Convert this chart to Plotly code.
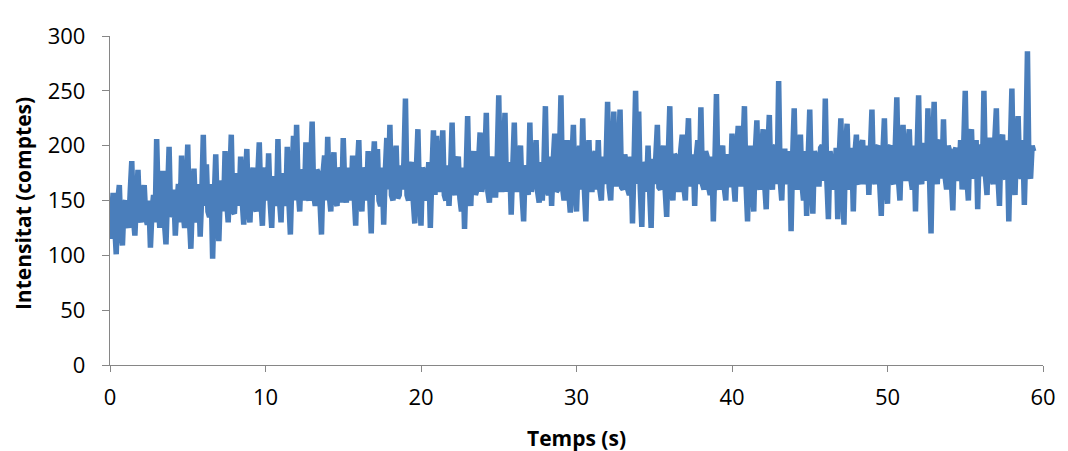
import plotly.graph_objects as go

# Sampling step (s) of the recorded series
step_s = 0.1

# Intensity (counts), one value per 0.1 s starting at t = 0
# (each row = 2 s of signal)
intensitat = [
    115, 140, 157, 128, 101, 150, 164, 122, 109, 146, 150, 132, 125, 158, 186, 135, 118, 150, 178, 138,
    130, 155, 164, 135, 128, 150, 107, 140, 155, 130, 206, 150, 125, 160, 177, 130, 110, 155, 199, 135,
    140, 160, 118, 145, 165, 130, 191, 140, 125, 162, 201, 135, 106, 150, 179, 140, 130, 165, 117, 155,
    210, 145, 183, 140, 135, 165, 97, 150, 192, 138, 113, 160, 168, 140, 195, 150, 130, 168, 210, 140,
    138, 165, 175, 145, 190, 150, 128, 168, 197, 140, 130, 170, 180, 145, 140, 172, 203, 150, 127, 170,
    180, 150, 193, 148, 125, 172, 170, 145, 206, 150, 130, 175, 165, 145, 199, 150, 119, 170, 209, 150,
    219, 160, 140, 178, 175, 150, 203, 155, 150, 180, 222, 155, 145, 178, 175, 150, 119, 175, 191, 150,
    208, 155, 140, 178, 194, 150, 145, 180, 175, 148, 207, 160, 148, 180, 170, 150, 191, 155, 127, 178,
    205, 152, 140, 180, 175, 150, 195, 155, 120, 178, 204, 155, 197, 150, 145, 180, 128, 175, 207, 160,
    219, 155, 150, 185, 200, 152, 155, 182, 160, 185, 243, 155, 150, 180, 185, 150, 129, 178, 215, 155,
    127, 180, 175, 150, 160, 185, 125, 175, 214, 155, 209, 160, 160, 185, 214, 155, 150, 182, 145, 175,
    221, 160, 155, 185, 190, 152, 140, 180, 124, 175, 227, 158, 145, 182, 195, 155, 160, 185, 212, 158,
    165, 185, 230, 158, 148, 185, 190, 155, 155, 188, 246, 160, 160, 188, 230, 158, 165, 185, 137, 180,
    221, 160, 160, 188, 200, 155, 131, 182, 175, 155, 221, 158, 165, 188, 205, 158, 148, 185, 150, 180,
    236, 160, 155, 190, 145, 185, 211, 158, 160, 188, 246, 162, 150, 185, 205, 158, 139, 185, 219, 160,
    140, 185, 200, 160, 225, 162, 131, 185, 205, 160, 160, 190, 195, 160, 205, 160, 150, 190, 165, 185,
    240, 162, 150, 190, 231, 165, 165, 192, 233, 162, 160, 192, 185, 160, 155, 190, 129, 185, 250, 165,
    231, 160, 126, 185, 180, 158, 200, 160, 125, 188, 165, 190, 219, 162, 160, 192, 200, 160, 135, 190,
    236, 162, 150, 192, 190, 160, 160, 195, 210, 162, 150, 195, 225, 165, 165, 192, 145, 190, 205, 165,
    235, 165, 160, 195, 190, 162, 155, 190, 131, 185, 247, 165, 160, 195, 200, 162, 150, 192, 190, 162,
    211, 168, 149, 195, 218, 165, 165, 195, 236, 165, 131, 192, 200, 162, 140, 195, 223, 165, 160, 195,
    215, 165, 142, 195, 228, 168, 160, 198, 200, 165, 259, 168, 150, 195, 195, 165, 170, 195, 122, 190,
    234, 168, 160, 198, 210, 165, 150, 195, 136, 190, 233, 168, 138, 195, 190, 165, 165, 198, 200, 168,
    243, 168, 133, 195, 185, 160, 165, 198, 133, 192, 225, 165, 128, 195, 220, 168, 160, 198, 140, 192,
    210, 168, 165, 200, 205, 165, 170, 200, 155, 195, 233, 170, 165, 198, 200, 165, 136, 192, 225, 170,
    147, 198, 200, 168, 165, 200, 244, 170, 150, 200, 219, 170, 170, 200, 215, 170, 160, 200, 140, 195,
    246, 170, 165, 202, 200, 168, 234, 172, 120, 195, 240, 172, 165, 202, 205, 170, 224, 172, 160, 200,
    195, 170, 141, 195, 198, 170, 170, 205, 160, 200, 250, 172, 150, 205, 215, 170, 175, 205, 142, 198,
    200, 172, 250, 172, 155, 205, 205, 170, 165, 205, 234, 172, 145, 205, 210, 172, 170, 205, 131, 198,
    252, 172, 155, 205, 227, 175, 170, 205, 146, 200, 286, 175, 170, 200, 195,
]
temps = [round(i * step_s, 1) for i in range(len(intensitat))]

x_ticks = [0, 10, 20, 30, 40, 50, 60]
y_ticks = [0, 50, 100, 150, 200, 250, 300]

x_title = "Temps (s)"
y_title = "Intensitat (comptes)"

fig = go.Figure()
fig.add_trace(go.Scatter(
    x=temps, y=intensitat, mode="lines",
    line=dict(color="#4A7EBB", width=5.5),
    showlegend=False,
))

axis_common = dict(
    showgrid=False, zeroline=False, showline=True,
    linecolor="#868686", linewidth=1.3,
    ticks="outside", tickcolor="#868686", tickwidth=1.3,
    tickfont=dict(family="Open Sans", size=22, color="#000000"),
)

fig.update_xaxes(range=[0, 60], tickvals=x_ticks, ticklen=6,
                 ticklabelstandoff=6, **axis_common)
fig.update_yaxes(range=[0, 300], tickvals=y_ticks, ticklen=7,
                 ticklabelstandoff=12, **axis_common)

# plot area spans 940 x 336 px
fig.add_annotation(text="<b>" + x_title + "</b>", xref="paper", yref="paper",
                   x=0.5, y=-0.222, xanchor="center", yanchor="middle",
                   showarrow=False,
                   font=dict(family="Open Sans", size=21, color="#000000"))
fig.add_annotation(text="<b>" + y_title + "</b>", xref="paper", yref="paper",
                   x=-0.094, y=0.49, xanchor="center", yanchor="middle",
                   textangle=-90, showarrow=False,
                   font=dict(family="Open Sans", size=21, color="#000000"))

fig.update_layout(
    width=1060, height=443,
    margin=dict(l=102, r=18, t=21, b=86),
    paper_bgcolor="#FFFFFF", plot_bgcolor="#FFFFFF",
)

fig.write_html("out.html")
